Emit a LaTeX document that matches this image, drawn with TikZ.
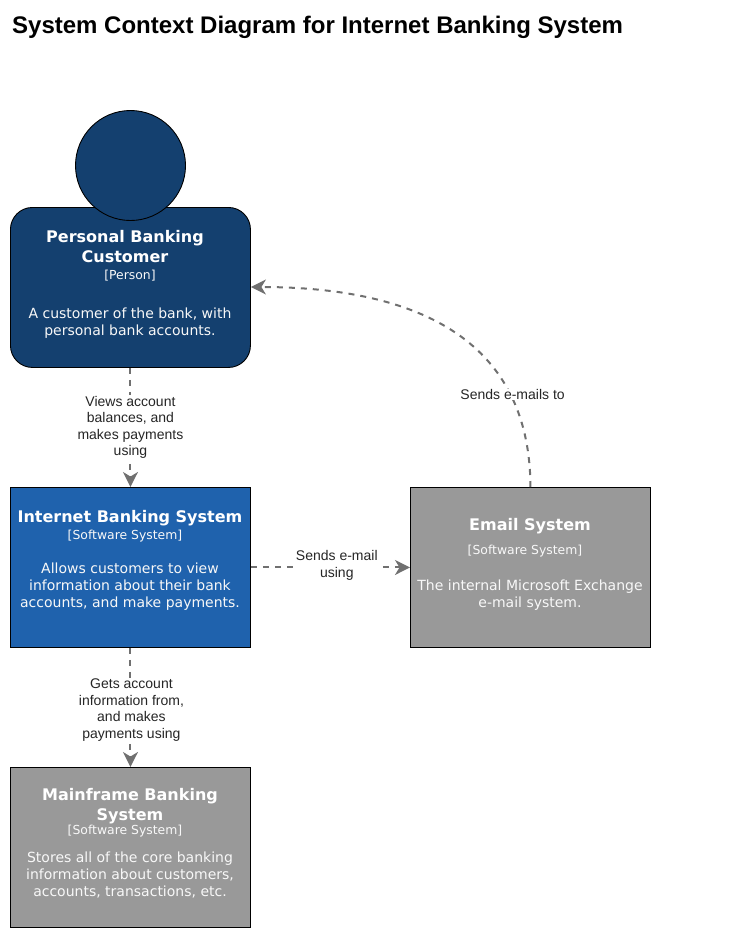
\documentclass[tikz,border=0pt]{standalone}
\usepackage{fontspec}
\setmainfont{DejaVu Sans}
\newfontfamily\labelfont{Liberation Sans}
\usetikzlibrary{arrows.meta}
\definecolor{persondark}{HTML}{14406F}
\definecolor{sysblue}{HTML}{1F62AD}
\definecolor{sysgrey}{HTML}{999999}
\definecolor{linkgrey}{HTML}{707070}
\definecolor{softwhite}{HTML}{F8F8F8}
\tikzset{
  x=1pt,y=-1pt,
  boxshape/.style={draw=black,line width=.9pt,minimum width=240pt,minimum height=160pt,inner sep=0pt,anchor=north west},
  headtext/.style={text=white,align=center,inner sep=0pt,font=\fontsize{16}{20}\selectfont\bfseries},
  tagtext/.style={text=softwhite,align=center,inner sep=0pt,font=\fontsize{12.4}{14}\selectfont},
  desctext/.style={text=softwhite,align=center,inner sep=0pt,font=\fontsize{14}{17}\selectfont},
  linklabel/.style={fill=white,text=black!85,align=center,inner sep=1pt,font=\labelfont\fontsize{14}{16.6}\selectfont},
  link/.style={draw=linkgrey,line width=2pt,dash pattern=on 6pt off 6pt,-{Stealth[length=15pt,width=15pt,inset=4.5pt,fill=linkgrey]}},
}
\begin{document}
\begin{tikzpicture}
\useasboundingbox (0,0) rectangle (741,938);
\node[anchor=west,inner sep=0pt,font=\labelfont\fontsize{24}{28}\selectfont\bfseries] (title) at (12,27.5) {System Context Diagram for Internet Banking System};

\node[boxshape,fill=persondark,rounded corners=22pt] (customer) at (10,207) {};
\node[draw=black,line width=.9pt,fill=persondark,circle,minimum size=110pt,inner sep=0pt] (head) at (130.5,165.5) {};
\node[boxshape,fill=sysblue] (banking) at (10,487) {};
\node[boxshape,fill=sysgrey] (email) at (410,487) {};
\node[boxshape,fill=sysgrey] (mainframe) at (10,767) {};

\node[headtext] (customerhead) at (125,247) {Personal Banking\\Customer};
\node[tagtext] (customertag) at (130,276) {[Person]};
\node[desctext] (customerdesc) at (130,323) {A customer of the bank, with\\personal bank accounts.};

\node[headtext] (bankinghead) at (130,518) {Internet Banking System};
\node[tagtext] (bankingtag) at (125,536) {[Software System]};
\node[desctext] (bankingdesc) at (130,587) {Allows customers to view\\information about their bank\\accounts, and make payments.};

\node[headtext] (emailhead) at (530,526) {Email System};
\node[tagtext] (emailtag) at (525,551) {[Software System]};
\node[desctext] (emaildesc) at (530,595) {The internal Microsoft Exchange\\e-mail system.};

\node[headtext] (mainframehead) at (130,806) {Mainframe Banking\\System};
\node[tagtext] (mainframetag) at (125,831) {[Software System]};
\node[desctext] (mainframedesc) at (130,875) {Stores all of the core banking\\information about customers,\\accounts, transactions, etc.};

\draw[link] (customer.south) -- node[linklabel,pos=.5] (l1) {Views account\\balances, and\\makes payments\\using} (banking.north);
\draw[link] (banking.east) -- node[linklabel,pos=.54,yshift=2pt] (l2) {Sends e-mail\\using} (email.west);
\draw[link] (banking.south) -- node[linklabel,pos=.5,xshift=1pt,yshift=-2.5pt] (l3) {Gets account\\information from,\\and makes\\payments using} (mainframe.north);
\draw[link] (email.north) .. controls (530,335) and (410,287) .. (customer.east |- 0,287)
  node[linklabel,pos=.24,inner ysep=.5pt,xshift=2pt] (l4) {Sends e-mails to};
\end{tikzpicture}
\end{document}
